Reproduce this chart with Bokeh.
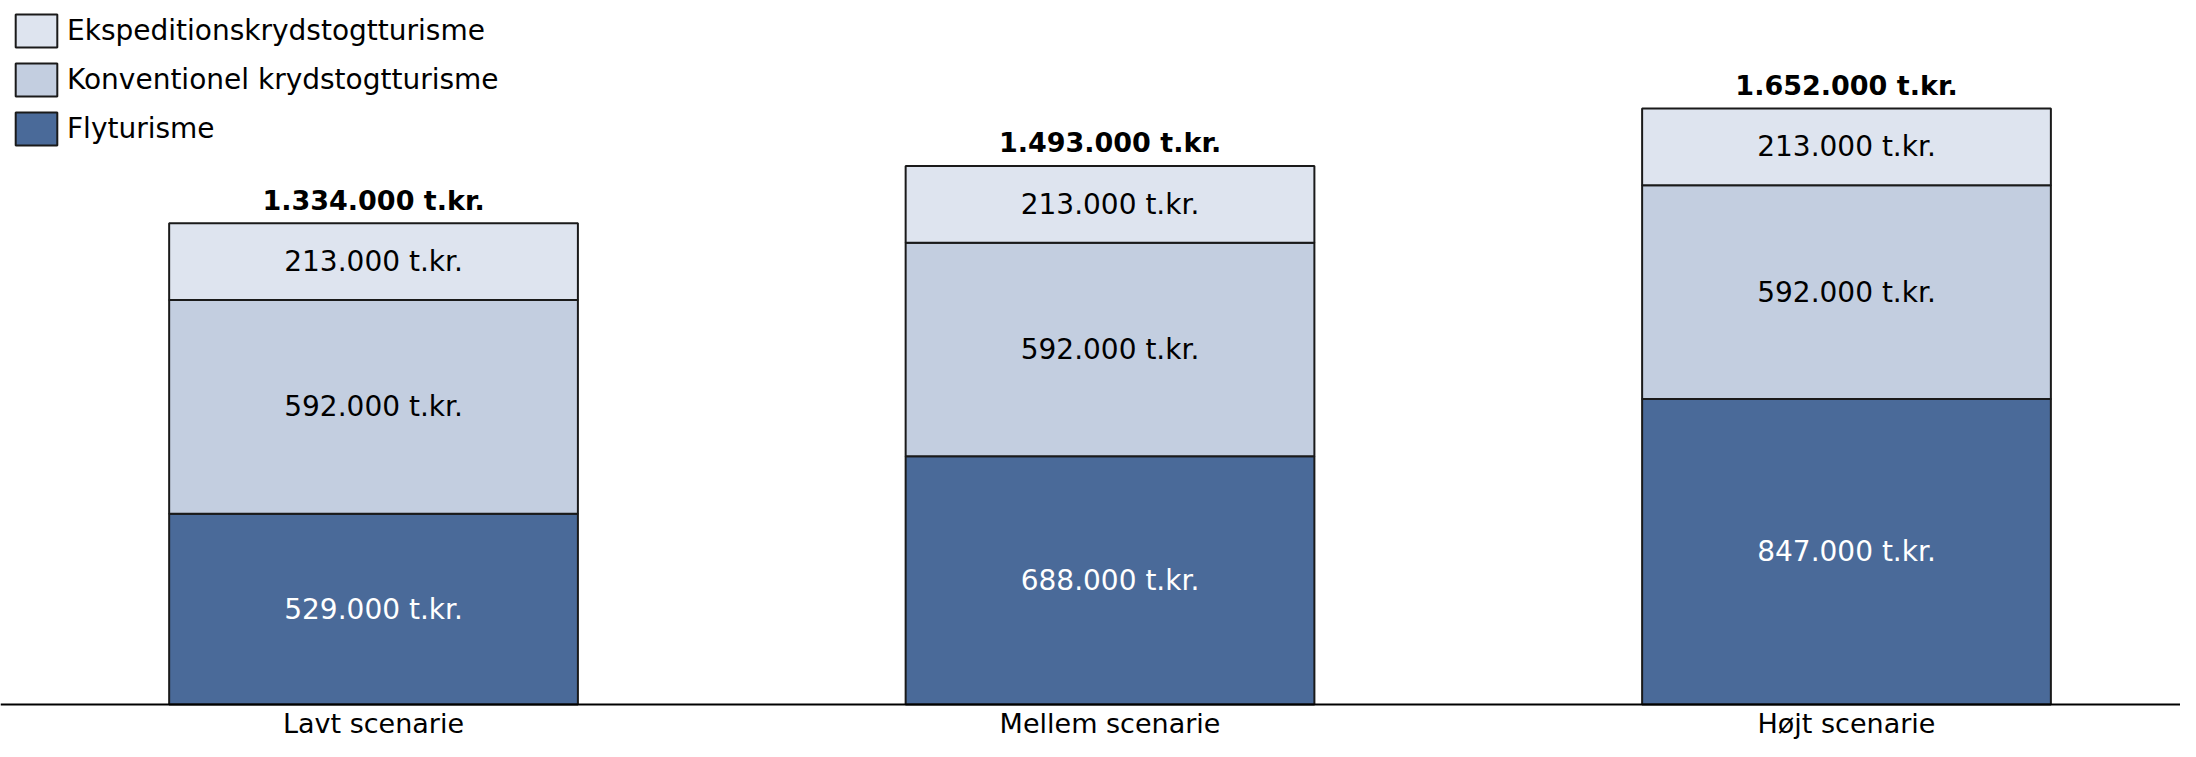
from bokeh.plotting import figure
from bokeh.models import ColumnDataSource, Legend, LegendItem, FixedTicker, Range1d
from bokeh.embed import file_html
from bokeh.resources import INLINE
from bokeh.core.properties import value

# ---- data ----
scenarios = ["Lavt scenarie", "Mellem scenarie", "Højt scenarie"]
series = ["Flyturisme", "Konventionel krydstogtturisme", "Ekspeditionskrydstogtturisme"]
flyturisme = [529000, 688000, 847000]
konventionel = [592000, 592000, 592000]
ekspedition = [213000, 213000, 213000]

colors = ["#4A6A99", "#C3CEE0", "#DEE4EF"]
label_colors = ["white", "black", "black"]
FONT = "DejaVu Sans"


def fmt(v):
    return f"{v:,}".replace(",", ".") + " t.kr."


xs = list(range(len(scenarios)))
totals = [a + b + c for a, b, c in zip(flyturisme, konventionel, ekspedition)]

src = ColumnDataSource(dict(x=xs, fly=flyturisme, konv=konventionel, eksp=ekspedition))

p = figure(width=2180, height=741, output_backend="svg", toolbar_location=None,
           x_range=Range1d(-0.5065, 2.4535), y_range=Range1d(-102560, 1951400),
           min_border_left=0, min_border_right=0, min_border_top=0, min_border_bottom=0)

renderers = p.vbar_stack(["fly", "konv", "eksp"], x="x", width=0.555, source=src,
                         fill_color=colors, line_color="#1a1a1a", line_width=2)

# segment labels
stack_vals = [flyturisme, konventionel, ekspedition]
base = [0] * len(xs)
for vals, tc in zip(stack_vals, label_colors):
    mids = [b + v / 2 for b, v in zip(base, vals)]
    s = ColumnDataSource(dict(x=xs, y=mids, t=[fmt(v) for v in vals]))
    p.text(x="x", y="y", text="t", source=s, text_align="center", text_baseline="middle",
           text_font=value(FONT), text_font_size="28px", text_color=tc)
    base = [b + v for b, v in zip(base, vals)]

# totals
ts = ColumnDataSource(dict(x=xs, y=totals, t=[fmt(v) for v in totals]))
p.text(x="x", y="y", text="t", source=ts, text_align="center", text_baseline="middle",
       y_offset=-23, text_font=value(FONT), text_font_size="27px", text_font_style="bold",
       text_color="black")

# axes
p.yaxis.visible = False
p.xgrid.visible = False
p.ygrid.visible = False
p.outline_line_color = None
xa = p.xaxis[0]
xa.fixed_location = 0
xa.ticker = FixedTicker(ticks=xs)
xa.major_label_overrides = {i: s for i, s in enumerate(scenarios)}
xa.major_tick_line_color = None
xa.minor_tick_line_color = None
xa.major_tick_out = 0
xa.major_tick_in = 0
xa.axis_line_color = "black"
xa.axis_line_width = 2
xa.major_label_standoff = 4
xa.major_label_text_font = FONT
xa.major_label_text_font_size = "27px"
xa.major_label_text_color = "black"

# legend (top entry first)
items = [LegendItem(label=series[i], renderers=[renderers[i]]) for i in (2, 1, 0)]
leg = Legend(items=items, location="top_left", orientation="vertical",
             glyph_width=52, glyph_height=41, label_height=41, spacing=8,
             label_standoff=5, padding=10, margin=0,
             label_text_font=FONT, label_text_font_size="28px", label_text_color="black",
             border_line_alpha=0, background_fill_alpha=0)
p.add_layout(leg)

open("out.html", "w").write(file_html(p, INLINE))
